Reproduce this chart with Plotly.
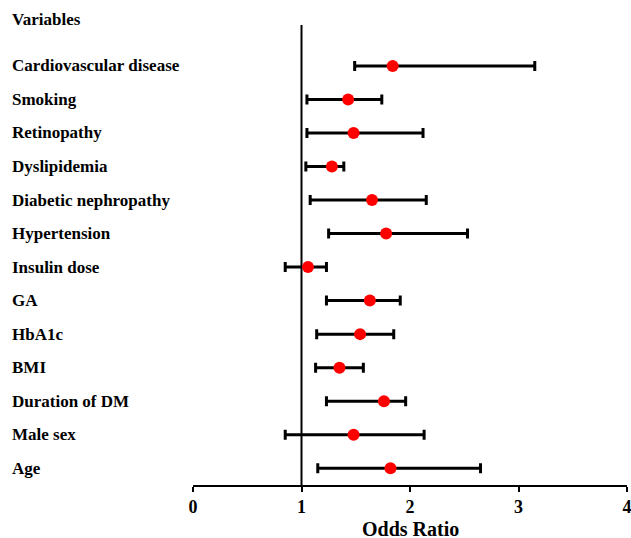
import plotly.graph_objects as go

variables = ["Cardiovascular disease", "Smoking", "Retinopathy", "Dyslipidemia",
             "Diabetic nephropathy", "Hypertension", "Insulin dose", "GA", "HbA1c",
             "BMI", "Duration of DM", "Male sex", "Age"]
odds_ratio = [1.84, 1.43, 1.48, 1.28, 1.65, 1.78, 1.06, 1.63, 1.54, 1.35, 1.76, 1.48, 1.82]
ci_lower = [1.49, 1.05, 1.05, 1.04, 1.08, 1.25, 0.85, 1.23, 1.14, 1.13, 1.23, 0.85, 1.15]
ci_upper = [3.15, 1.74, 2.12, 1.39, 2.15, 2.53, 1.23, 1.91, 1.85, 1.57, 1.96, 2.13, 2.65]
x_ticks = [0, 1, 2, 3, 4]

rows = list(range(len(variables)))
err_plus = [u - o for u, o in zip(ci_upper, odds_ratio)]
err_minus = [o - l for o, l in zip(odds_ratio, ci_lower)]

FONT = "Liberation Serif, Times New Roman, serif"
ML, MR, MT, MB = 193, 4, 25, 53
W, H = 631, 538
plot_w = W - ML - MR
plot_h = H - MT - MB
label_x = (10 - ML) / plot_w

fig = go.Figure()
fig.add_trace(go.Scatter(
    x=odds_ratio, y=rows, mode="markers",
    marker=dict(color="#ff0000", size=12, line=dict(width=0)),
    error_x=dict(type="data", symmetric=False, array=err_plus, arrayminus=err_minus,
                 color="black", thickness=3, width=5),
    showlegend=False, hoverinfo="skip", cliponaxis=False,
))

fig.add_shape(type="line", x0=1, x1=1, xref="x", y0=0, y1=1, yref="paper",
              line=dict(color="black", width=2), layer="below")

annotations = [dict(text="<b>Variables</b>", x=label_x, xref="paper",
                    y=1 + (MT - 20) / plot_h, yref="paper",
                    showarrow=False, xanchor="left", yanchor="middle",
                    font=dict(family=FONT, size=17, color="black")),
               dict(text="<b>Odds Ratio</b>", x=0.5, xref="paper",
                    y=-(529 - (H - MB)) / plot_h, yref="paper",
                    showarrow=False, xanchor="center", yanchor="middle",
                    font=dict(family=FONT, size=20, color="black"))]
for i, v in enumerate(variables):
    annotations.append(dict(text=f"<b>{v}</b>", x=label_x, y=i, yref="y", xref="paper",
                            showarrow=False, xanchor="left", yanchor="middle",
                            font=dict(family=FONT, size=17, color="black")))

fig.update_layout(
    width=W, height=H,
    margin=dict(l=ML, r=MR, t=MT, b=MB, autoexpand=False),
    paper_bgcolor="white", plot_bgcolor="white",
    font=dict(family=FONT, color="black"),
    annotations=annotations,
    xaxis=dict(range=[0, 4], tickvals=x_ticks, ticktext=[f"<b>{t}</b>" for t in x_ticks],
               showgrid=False, zeroline=False, showline=True, linecolor="black", linewidth=1.5,
               ticks="outside", ticklen=5, tickwidth=1.5, tickcolor="black",
               tickfont=dict(family=FONT, size=18, color="black"),
               automargin=False, ticklabeloverflow="allow"),
    yaxis=dict(range=[12.5, -1.22], showgrid=False, zeroline=False, showline=False,
               showticklabels=False, ticks="", automargin=False),
)

fig.write_html("out.html", config={"displayModeBar": False},
               post_script="document.body.style.margin='0';document.body.style.overflow='hidden';")
